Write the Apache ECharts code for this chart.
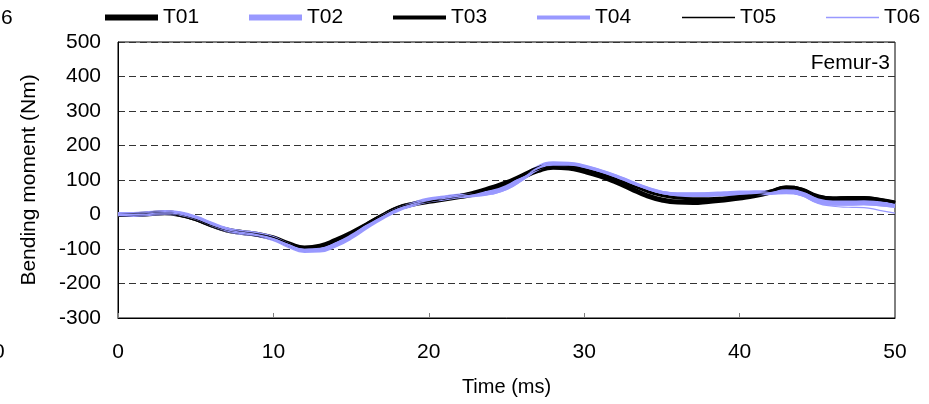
<!DOCTYPE html>
<html>
<head>
<meta charset="utf-8">
<script src="https://cdn.jsdelivr.net/npm/echarts@6/dist/echarts.min.js"></script>
<style>
html, body { margin: 0; padding: 0; background: #fff; }
#chart { width: 929px; height: 404px; }
</style>
</head>
<body>
<div id="chart"></div>
<script>
// time axis, 1 ms steps
var time = [];
for (var i = 0; i <= 50; i++) time.push(i);

var seriesNames = ['T01', 'T02', 'T03', 'T04', 'T05', 'T06'];

var t01 = [0, 0, 2, 5, 0, -12, -30, -45, -52, -58, -68, -85, -97, -92, -75, -54, -30, -5, 18, 30,
    38, 45, 52, 60, 72, 88, 108, 127, 137, 135, 125, 112, 95, 75, 55, 42, 36, 35, 38, 42,
    48, 55, 65, 77, 70, 50, 45, 46, 46, 41, 32];
var t02 = [0, 0, 3, 6, 2, -10, -28, -44, -52, -58, -70, -90, -104, -103, -88, -65, -35, -8, 15, 30,
    42, 48, 54, 58, 64, 78, 105, 134, 147, 146, 138, 125, 110, 92, 75, 62, 57, 57, 58, 60,
    62, 63, 64, 66, 60, 40, 33, 33, 34, 31, 26];
var t03 = [-2, 0, 3, 5, -2, -15, -32, -46, -53, -60, -70, -88, -99, -93, -76, -55, -28, -2, 20, 32,
    40, 48, 55, 66, 80, 95, 115, 135, 144, 142, 133, 120, 104, 86, 68, 55, 48, 46, 46, 48,
    52, 58, 68, 80, 74, 55, 48, 49, 49, 44, 36];
var t04 = [0, 1, 3, 6, 1, -11, -29, -45, -53, -59, -71, -89, -103, -101, -85, -62, -33, -6, 16, 31,
    43, 49, 55, 57, 62, 75, 102, 132, 146, 146, 139, 127, 112, 94, 77, 64, 59, 59, 60, 61,
    62, 63, 63, 65, 58, 38, 30, 30, 31, 28, 24];
var t05 = [0, 1, 3, 5, 0, -13, -31, -45, -51, -57, -67, -84, -96, -90, -72, -52, -27, -3, 19, 31,
    39, 46, 53, 62, 75, 91, 111, 130, 139, 137, 127, 114, 97, 78, 58, 45, 39, 38, 40, 44,
    50, 57, 67, 79, 72, 52, 46, 47, 47, 42, 33];
var t06 = [0, 0, 2, 5, 1, -11, -29, -44, -52, -59, -70, -88, -102, -100, -86, -63, -34, -7, 16, 30,
    41, 47, 53, 57, 63, 77, 104, 133, 146, 145, 137, 124, 109, 91, 74, 61, 56, 56, 57, 58,
    60, 62, 63, 64, 55, 33, 24, 21, 20, 12, 4];

var values = [t01, t02, t03, t04, t05, t06];
var colors = ['#000000', '#9999ff', '#000000', '#9999ff', '#000000', '#9999ff'];
var widths = [5, 5, 3, 3, 1.2, 1.2];
var legendIcon = [6, 6, 4, 4, 1.5, 1.5];
var legendLeft = [100, 244, 388, 532, 677, 821];

var yTicks = { min: -300, max: 500, step: 100 };
var xTicks = { min: 0, max: 50, step: 10 };

var font = 'Liberation Sans, Arial, sans-serif';

var series = seriesNames.map(function (name, k) {
    return {
        name: name,
        type: 'line',
        smooth: true,
        symbol: 'none',
        data: time.map(function (t, j) { return [t, values[k][j]]; }),
        lineStyle: { color: colors[k], width: widths[k] },
        itemStyle: { color: colors[k] }
    };
});

// one legend per item so each icon keeps its own thickness
var legends = seriesNames.map(function (name, k) {
    return {
        left: legendLeft[k],
        top: 2,
        icon: 'rect',
        itemWidth: 53,
        itemHeight: legendIcon[k],
        itemStyle: { color: colors[k] },
        textStyle: { fontSize: 21, color: '#000', fontFamily: font },
        data: [name]
    };
});

var chart = echarts.init(document.getElementById('chart'), null, { renderer: 'canvas' });
chart.setOption({
    animation: false,
    backgroundColor: '#fff',
    textStyle: { fontFamily: font },
    legend: legends,
    grid: {
        left: 118, right: 34, top: 42, bottom: 86,
        show: true, borderColor: '#000', borderWidth: 1
    },
    xAxis: {
        type: 'value',
        min: xTicks.min, max: xTicks.max, interval: xTicks.step,
        name: 'Time (ms)',
        nameLocation: 'middle',
        nameGap: 59,
        nameTextStyle: { fontSize: 20, color: '#000', fontFamily: font },
        axisLine: { onZero: false, lineStyle: { color: '#000', width: 1 } },
        axisTick: { inside: true, length: 5, lineStyle: { color: '#808080' } },
        axisLabel: { fontSize: 21, color: '#000', margin: 24, fontFamily: font },
        splitLine: { show: false }
    },
    yAxis: {
        type: 'value',
        min: yTicks.min, max: yTicks.max, interval: yTicks.step,
        name: 'Bending moment (Nm)',
        nameLocation: 'middle',
        nameGap: 78,
        nameTextStyle: { fontSize: 21, color: '#000', fontFamily: font },
        axisLine: { show: true, onZero: false, lineStyle: { color: '#000', width: 1 } },
        axisTick: { show: false },
        axisLabel: { fontSize: 21, color: '#000', margin: 17, fontFamily: font },
        splitLine: { show: true, lineStyle: { color: '#333', type: [7, 4], width: 1 } }
    },
    graphic: [
        { type: 'text', right: 39, top: 53, style: { text: 'Femur-3', fontSize: 21, fill: '#000', fontFamily: font } },
        { type: 'text', left: 1, top: 8, style: { text: '6', fontSize: 21, fill: '#000', fontFamily: font } },
        { type: 'text', left: -7, top: 342, style: { text: '0', fontSize: 21, fill: '#000', fontFamily: font } }
    ],
    series: series
});
</script>
</body>
</html>
